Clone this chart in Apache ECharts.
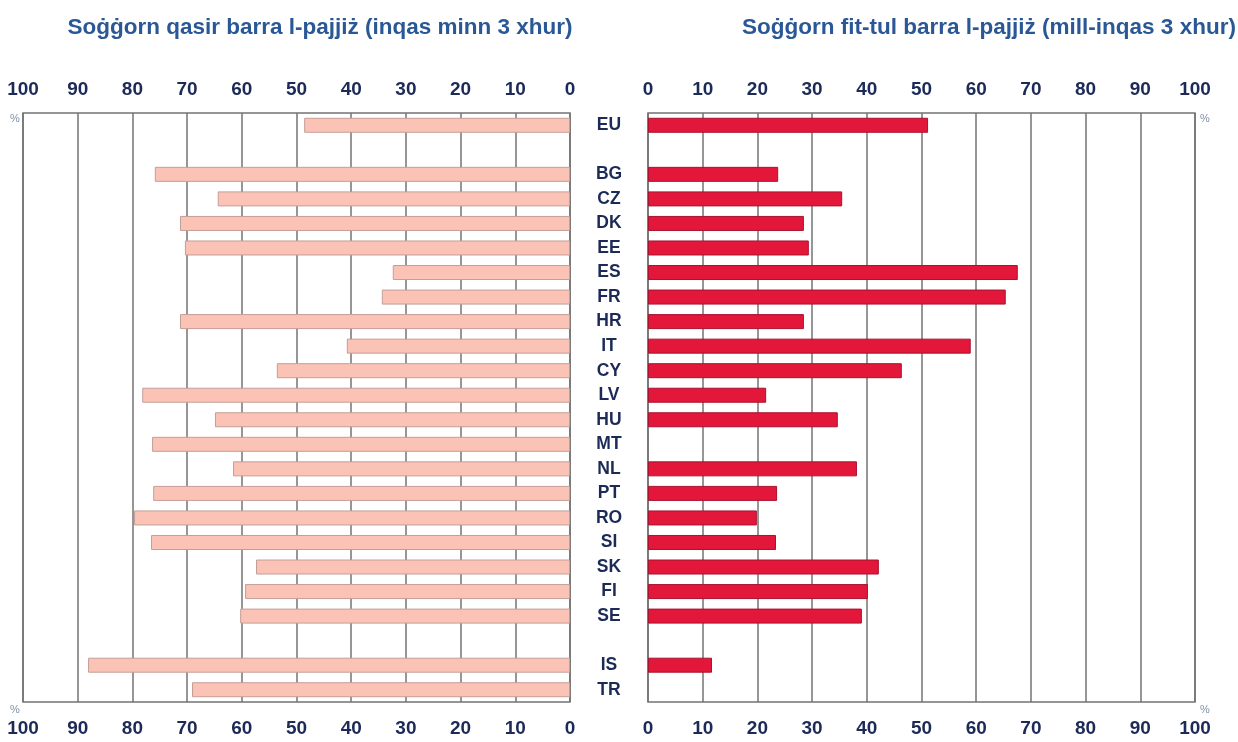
<!DOCTYPE html>
<html>
<head>
<meta charset="utf-8">
<script src="https://cdn.jsdelivr.net/npm/echarts@6/dist/echarts.min.js"></script>
<style>
  html, body { margin: 0; padding: 0; background: #ffffff; }
  #chart { width: 1238px; height: 742px; }
</style>
</head>
<body>
<div id="chart"></div>
<script>
// Country rows, top to bottom; empty strings are spacer rows
const countries = ['EU', '', 'BG', 'CZ', 'DK', 'EE', 'ES', 'FR', 'HR', 'IT', 'CY', 'LV', 'HU', 'MT',
  'NL', 'PT', 'RO', 'SI', 'SK', 'FI', 'SE', '', 'IS', 'TR'];

// Short trips abroad (less than 3 months), %
const shortStay = [48.6, null, 75.9, 64.4, 71.3, 70.4, 32.4, 34.4, 71.3, 40.8, 53.6, 78.2, 64.9, 76.4,
  61.6, 76.2, 79.7, 76.6, 57.4, 59.4, 60.3, null, 88.1, 69.1];

// Long trips abroad (3 months or more), %
const longStay = [51.2, null, 23.8, 35.5, 28.5, 29.4, 67.6, 65.4, 28.5, 59.0, 46.4, 21.6, 34.7, null,
  38.2, 23.6, 19.9, 23.4, 42.2, 40.2, 39.1, null, 11.7, null];

const tickValues = [0, 10, 20, 30, 40, 50, 60, 70, 80, 90, 100];

const titleLeft = 'Soġġorn qasir barra l-pajjiż (inqas minn 3 xhur)';
const titleRight = 'Soġġorn fit-tul barra l-pajjiż (mill-inqas 3 xhur)';

const navy = '#1c2a57';
const gridGray = '#737373';
const sansFont = '"Liberation Sans", Arial, sans-serif';

function valueAxis(gridIndex, position, inverse) {
  return {
    type: 'value', gridIndex: gridIndex, position: position, inverse: inverse,
    min: tickValues[0], max: tickValues[tickValues.length - 1], interval: 10,
    axisLine: { show: false }, axisTick: { show: false },
    splitLine: { show: position === 'top', lineStyle: { color: gridGray, width: 1.5 } },
    axisLabel: {
      show: true, margin: position === 'top' ? 14 : 17, color: navy,
      fontSize: 19, fontWeight: 'bold', fontFamily: sansFont
    }
  };
}

function catAxis(gridIndex, showLabels) {
  return {
    type: 'category', gridIndex: gridIndex, data: countries, inverse: true,
    axisLine: { show: false }, axisTick: { show: false }, splitLine: { show: false },
    axisLabel: {
      show: showLabels, interval: 0, align: 'center', margin: 39,
      color: navy, fontSize: 17.5, fontWeight: 'bold', fontFamily: sansFont,
      padding: [5, 0, 0, 0]
    }
  };
}

const chart = echarts.init(document.getElementById('chart'), null, { renderer: 'canvas' });

const pctStyle = { fill: '#8090a8', fontSize: 11, fontFamily: sansFont };
const titleStyle = { color: '#2a5896', fontSize: 22.5, fontWeight: 'bold', fontFamily: sansFont };

chart.setOption({
  animation: false,
  backgroundColor: '#ffffff',
  title: [
    { text: titleLeft, left: 315, top: 11, textAlign: 'center', textStyle: titleStyle },
    { text: titleRight, left: 984, top: 11, textAlign: 'center', textStyle: titleStyle }
  ],
  grid: [
    { left: 23, right: 668, top: 113, height: 589, show: true, borderColor: gridGray, borderWidth: 1.5 },
    { left: 648, right: 43, top: 113, height: 589, show: true, borderColor: gridGray, borderWidth: 1.5 }
  ],
  xAxis: [
    valueAxis(0, 'top', true),
    valueAxis(0, 'bottom', true),
    valueAxis(1, 'top', false),
    valueAxis(1, 'bottom', false)
  ],
  yAxis: [catAxis(0, false), catAxis(1, true)],
  graphic: [
    { type: 'text', left: 10, top: 113, style: Object.assign({ text: '%' }, pctStyle) },
    { type: 'text', left: 10, top: 704, style: Object.assign({ text: '%' }, pctStyle) },
    { type: 'text', left: 1200, top: 113, style: Object.assign({ text: '%' }, pctStyle) },
    { type: 'text', left: 1200, top: 704, style: Object.assign({ text: '%' }, pctStyle) }
  ],
  series: [
    {
      type: 'bar', xAxisIndex: 0, yAxisIndex: 0, data: shortStay, barWidth: 15,
      itemStyle: { color: '#fbc3b6', borderColor: '#c49e97', borderWidth: 1 }
    },
    {
      type: 'bar', xAxisIndex: 2, yAxisIndex: 1, data: longStay, barWidth: 15,
      itemStyle: { color: '#e2173a', borderColor: '#a8132f', borderWidth: 1 }
    }
  ]
});
</script>
</body>
</html>
